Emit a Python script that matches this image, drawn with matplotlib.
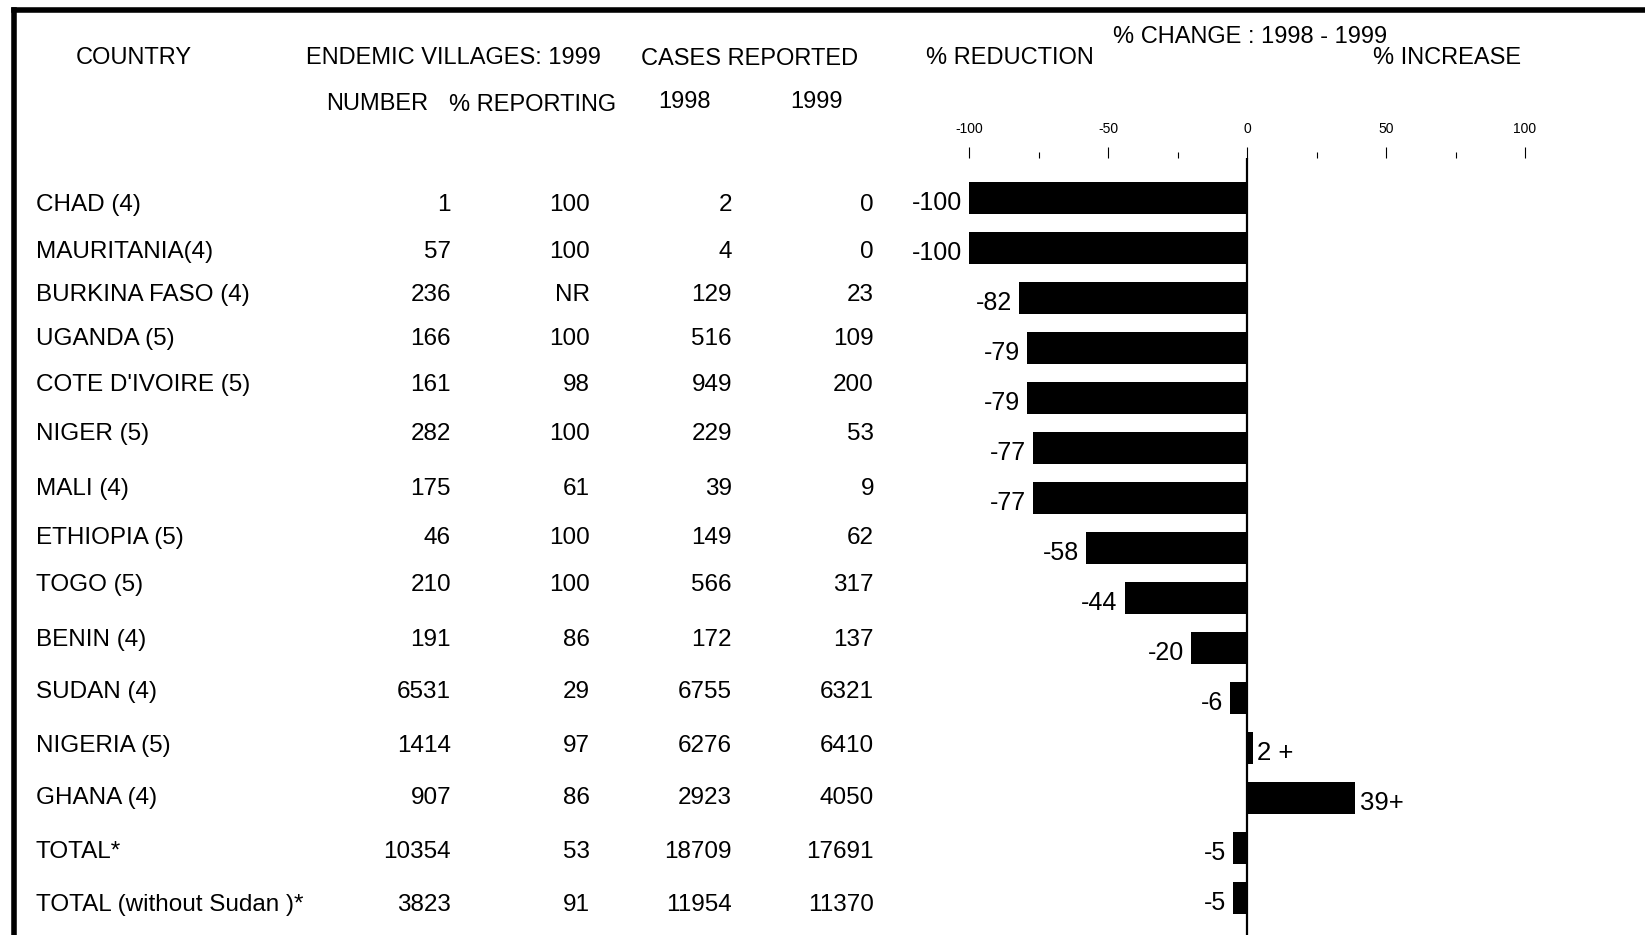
import numpy as np
import matplotlib
matplotlib.use("Agg")
import matplotlib.pyplot as plt
from matplotlib.ticker import FixedLocator

plt.rcParams['font.family'] = ['Liberation Sans', 'DejaVu Sans']

# данные таблицы
countries = ["CHAD (4)", "MAURITANIA(4)", "BURKINA FASO (4)", "UGANDA (5)",
             "COTE D'IVOIRE (5)", "NIGER (5)", "MALI (4)", "ETHIOPIA (5)",
             "TOGO (5)", "BENIN (4)", "SUDAN (4)", "NIGERIA (5)", "GHANA (4)",
             "TOTAL*", "TOTAL (without Sudan )*"]
villages = [1, 57, 236, 166, 161, 282, 175, 46, 210, 191, 6531, 1414, 907, 10354, 3823]
pct_reporting = ["100", "100", "NR", "100", "98", "100", "61", "100", "100",
                 "86", "29", "97", "86", "53", "91"]
cases_1998 = [2, 4, 129, 516, 949, 229, 39, 149, 566, 172, 6755, 6276, 2923, 18709, 11954]
cases_1999 = [0, 0, 23, 109, 200, 53, 9, 62, 317, 137, 6321, 6410, 4050, 17691, 11370]
pct_change = [-100, -100, -82, -79, -79, -77, -77, -58, -44, -20, -6, 2, 39, -5, -5]
change_labels = ["-100", "-100", "-82", "-79", "-79", "-77", "-77", "-58", "-44",
                 "-20", "-6", "2 +", "39+", "-5", "-5"]
tick_values = [-100, -50, 0, 50, 100]

# раскладка (пиксели)
W, H = 1645, 935
row_y = [202, 249, 292, 336, 382, 431, 486, 535, 582, 637, 689, 743, 795, 849, 902]
col_country = 36
col_right = [451, 590, 732, 874]

fig = plt.figure(figsize=(W / 100, H / 100), dpi=100)

# слой для таблицы в пиксельных координатах
tab = fig.add_axes([0, 0, 1, 1])
tab.set_xlim(0, W)
tab.set_ylim(H, 0)
tab.axis('off')
tab.patch.set_alpha(0)

fs_body = 17.5
cap = 0.716 * fs_body * 100 / 72

# рамка
tab.plot([13.5, 13.5], [H + 5, 10], color='black', lw=4, solid_capstyle='projecting')
tab.plot([13.5, W + 5], [10, 10], color='black', lw=4, solid_capstyle='projecting')

# заголовки
fs_head = 17
capH = 0.716 * fs_head * 100 / 72
headers = [
    ("COUNTRY", 134, 56), ("ENDEMIC VILLAGES: 1999", 453, 56),
    ("CASES REPORTED", 750, 57), ("% REDUCTION", 1010, 56),
    ("% INCREASE", 1447, 56), ("% CHANGE : 1998 - 1999", 1250, 35),
    ("NUMBER", 377, 102), ("% REPORTING", 533, 103),
    ("1998", 684, 100), ("1999", 816, 100),
]
for txt, x, y in headers:
    tab.text(x, y + capH / 2, txt, ha='center', va='baseline', fontsize=fs_head)

# строки таблицы
for i, y in enumerate(row_y):
    yb = y + cap / 2
    tab.text(col_country, yb, countries[i], ha='left', va='baseline', fontsize=fs_body)
    cells = [str(villages[i]), pct_reporting[i], str(cases_1998[i]), str(cases_1999[i])]
    for x, c in zip(col_right, cells):
        tab.text(x, yb, c, ha='right', va='baseline', fontsize=fs_body)

# график % изменения
left, right, top = 969, 1525, 158
ax = fig.add_axes([left / W, 0, (right - left) / W, 1 - top / H])
ax.patch.set_alpha(0)
ypos = np.arange(len(pct_change))
ax.barh(ypos, pct_change, height=0.64, color='black')
ax.axvline(0, color='black', lw=1.6)
ax.set_xlim(-100, 100)
ax.set_ylim(14.74, -0.8)
for s in ax.spines.values():
    s.set_visible(False)
ax.set_yticks([])
ax.xaxis.set_ticks_position('top')
ax.xaxis.set_major_locator(FixedLocator(tick_values))
ax.xaxis.set_minor_locator(FixedLocator([-75, -25, 25, 75]))
ax.set_xticklabels([str(v) for v in tick_values])
ax.tick_params(axis='x', which='major', direction='out', length=8, width=0.8,
               labelsize=10, pad=8)
ax.tick_params(axis='x', which='minor', direction='out', length=4.3, width=0.8)

for yv, v, lab in zip(ypos, pct_change, change_labels):
    if v < 0:
        ax.annotate(lab, (v, yv), xytext=(-5, -8.6), textcoords='offset points',
                    ha='right', va='baseline', fontsize=18, annotation_clip=False)
    else:
        ax.annotate(lab, (v, yv), xytext=(3, -8.6), textcoords='offset points',
                    ha='left', va='baseline', fontsize=18.5, annotation_clip=False)

fig.savefig('out.png', dpi=100)
